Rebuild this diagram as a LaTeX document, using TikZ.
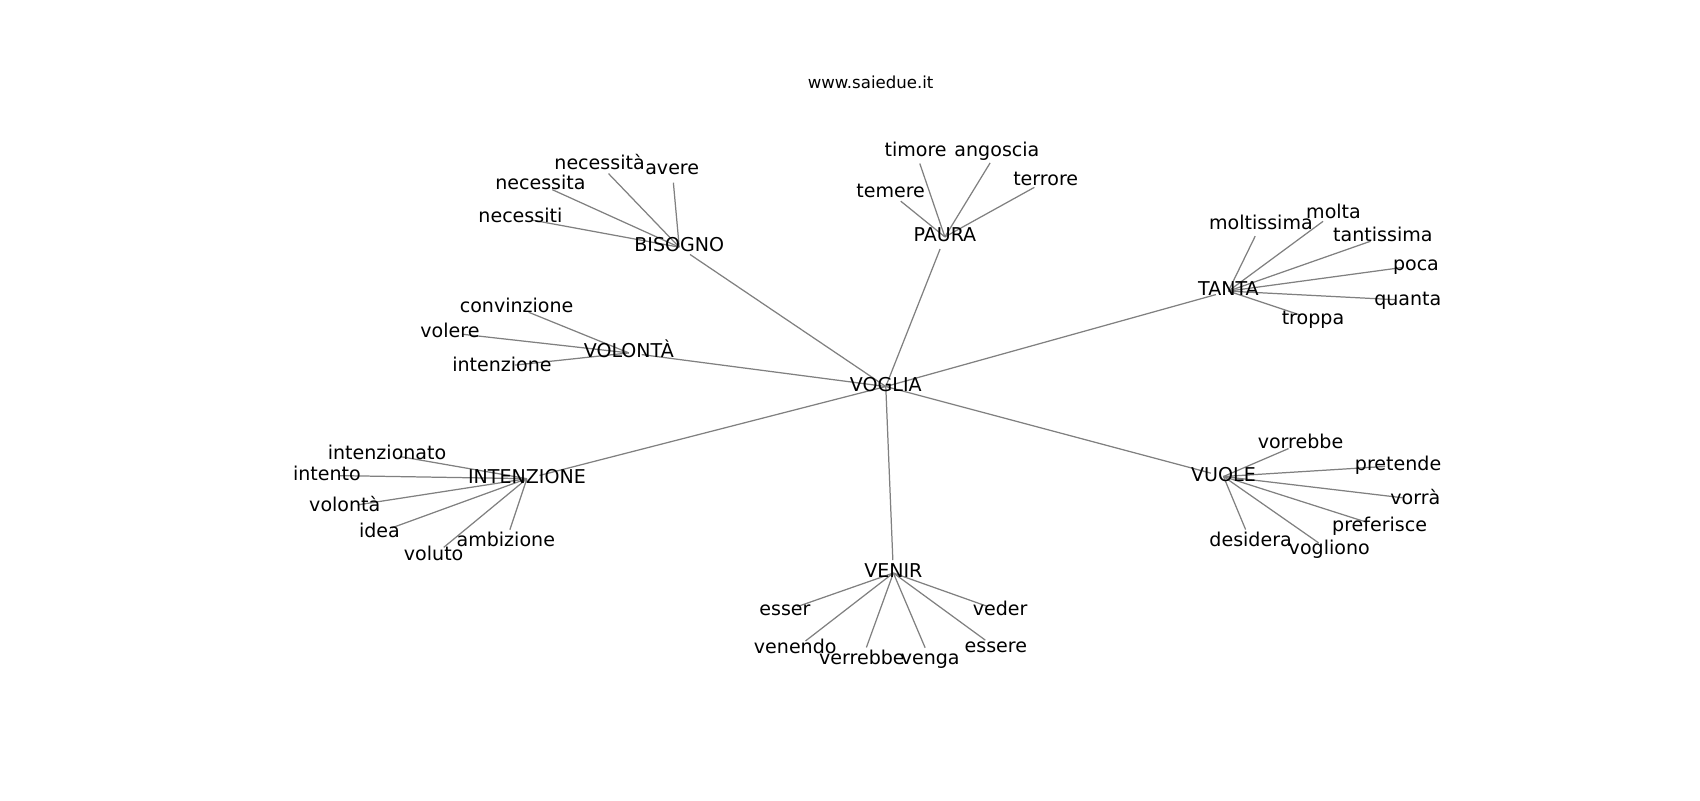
\documentclass[tikz,border=0pt]{standalone}
\usepackage{fontspec}
\setmainfont{DejaVu Sans}
\usetikzlibrary{backgrounds}
\tikzset{
  word/.style={font=\fontsize{10}{12}\selectfont, inner sep=0pt, text height=0.75em, text depth=0.25em, yshift=-0.05cm},
  link/.style={draw=gray, line width=0.65pt, shorten >=0.24cm},
}
\begin{document}
\begin{tikzpicture}[x=0.02cm, y=-0.02cm]
\useasboundingbox (0,0) rectangle (1568,738);

\node[font=\fontsize{8.7}{10}\selectfont, inner sep=0pt] (sito) at (803,76) {www.saiedue.it};

% centro e gruppi
\node[word] (voglia) at (817,354) {VOGLIA};
\node[word] (bisogno) at (626.5,225.5) {BISOGNO};
\node[word] (paura) at (871.5,216) {PAURA};
\node[word] (tanta) at (1133,266) {TANTA};
\node[word] (volonta) at (580,323) {VOLONTÀ};
\node[word] (intenzione) at (486,439) {INTENZIONE};
\node[word] (vuole) at (1128.5,437) {VUOLE};
\node[word] (venir) at (824,526) {VENIR};

% BISOGNO
\node[word] (nec1) at (553,149) {necessità};
\node[word] (avere) at (620,154) {avere};
\node[word] (nec2) at (498.5,167.5) {necessita};
\node[word] (nec3) at (480,198.5) {necessiti};

% PAURA
\node[word] (timore) at (844.5,137) {timore};
\node[word] (angoscia) at (919.5,137.5) {angoscia};
\node[word] (temere) at (821.5,175.5) {temere};
\node[word] (terrore) at (964.5,164.5) {terrore};

% TANTA
\node[word] (moltissima) at (1163,204.5) {moltissima};
\node[word] (molta) at (1230,194.5) {molta};
\node[word] (tantissima) at (1275.5,216) {tantissima};
\node[word] (poca) at (1306,242.5) {poca};
\node[word] (quanta) at (1298.5,274.5) {quanta};
\node[word] (troppa) at (1211,292) {troppa};

% VOLONTA
\node[word] (convinzione) at (476.5,281) {convinzione};
\node[word] (volere) at (415,304.5) {volere};
\node[word] (intenz2) at (463,335.5) {intenzione};

% INTENZIONE
\node[word] (intenzionato) at (357,416.5) {intenzionato};
\node[word] (intento) at (301.5,436) {intento};
\node[word] (volonta2) at (318,465) {volontà};
\node[word] (idea) at (350,488.5) {idea};
\node[word] (voluto) at (400,510) {voluto};
\node[word] (ambizione) at (466.5,497.5) {ambizione};

% VUOLE
\node[word] (vorrebbe) at (1199.5,406.5) {vorrebbe};
\node[word] (pretende) at (1289.5,427) {pretende};
\node[word] (vorra) at (1305.5,458) {vorrà};
\node[word] (preferisce) at (1272.5,483) {preferisce};
\node[word] (desidera) at (1153.5,497) {desidera};
\node[word] (vogliono) at (1226,505) {vogliono};

% VENIR
\node[word] (esser) at (724,561) {esser};
\node[word] (veder) at (922.5,561) {veder};
\node[word] (venendo) at (733.5,596) {venendo};
\node[word] (verrebbe) at (795,606) {verrebbe};
\node[word] (venga) at (858,606) {venga};
\node[word] (essere) at (918.5,595) {essere};

% archi
\begin{scope}[on background layer]
\foreach \b in {bisogno,paura,tanta,volonta,intenzione,vuole,venir} {
	\draw[link] (voglia.center) -- (\b.center);
}
\foreach \b in {nec1,avere,nec2,nec3} {
	\draw[link] (bisogno.center) -- (\b.center);
}
\foreach \b in {timore,angoscia,temere,terrore} {
	\draw[link] (paura.center) -- (\b.center);
}
\foreach \b in {moltissima,molta,tantissima,poca,quanta,troppa} {
	\draw[link] (tanta.center) -- (\b.center);
}
\foreach \b in {convinzione,volere,intenz2} {
	\draw[link] (volonta.center) -- (\b.center);
}
\foreach \b in {intenzionato,intento,volonta2,idea,voluto,ambizione} {
	\draw[link] (intenzione.center) -- (\b.center);
}
\foreach \b in {vorrebbe,pretende,vorra,preferisce,desidera,vogliono} {
	\draw[link] (vuole.center) -- (\b.center);
}
\foreach \b in {esser,veder,venendo,verrebbe,venga,essere} {
	\draw[link] (venir.center) -- (\b.center);
}
\end{scope}
\end{tikzpicture}
\end{document}
